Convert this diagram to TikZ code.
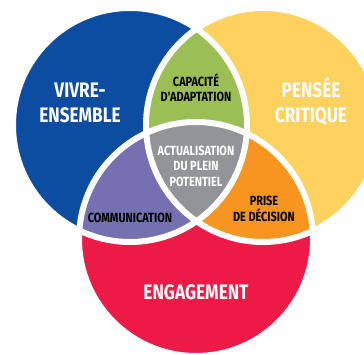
\documentclass[tikz,border=0pt]{standalone}
\usepackage{fontspec}
\newfontfamily\lbl{Fira Sans}[FakeStretch=0.82]
\definecolor{cblue}{HTML}{0D4DA1}
\definecolor{cyellow}{HTML}{FED25E}
\definecolor{cred}{HTML}{EC1A45}
\definecolor{cgreen}{HTML}{9CBF55}
\definecolor{cpurple}{HTML}{7470B2}
\definecolor{corange}{HTML}{F6951F}
\definecolor{cgray}{HTML}{929497}
\tikzset{
  bigtxt/.style={font=\lbl\bfseries\fontsize{21}{25}\selectfont, text=white, align=center, inner sep=0pt},
  smalltxt/.style={font=\lbl\bfseries\fontsize{13.3}{15.5}\selectfont, text=black, align=center, inner sep=0pt},
  border/.style={draw=white, line width=6pt}
}
\begin{document}
\begin{tikzpicture}[x=1pt,y=-1pt]
\useasboundingbox (0,0) rectangle (364,355);
\clip (0,0) rectangle (364,355);
\def\R{117}
\coordinate (cb) at (130,125);
\coordinate (cy) at (263,125);
\coordinate (cr) at (196,239);
% circles
\fill[cblue] (cb) circle[radius=\R];
\fill[cyellow] (cy) circle[radius=\R];
\fill[cred] (cr) circle[radius=\R];
% pairwise intersections
\begin{scope}\clip (cb) circle[radius=\R]; \fill[cgreen] (cy) circle[radius=\R];\end{scope}
\begin{scope}\clip (cb) circle[radius=\R]; \fill[cpurple] (cr) circle[radius=\R];\end{scope}
\begin{scope}\clip (cy) circle[radius=\R]; \fill[corange] (cr) circle[radius=\R];\end{scope}
\begin{scope}\clip (cb) circle[radius=\R]; \clip (cy) circle[radius=\R]; \fill[cgray] (cr) circle[radius=\R];\end{scope}
% white borders
\draw[border] (cb) circle[radius=\R];
\draw[border] (cy) circle[radius=\R];
\draw[border] (cr) circle[radius=\R];
% labels
\node[bigtxt] (vivre) at (80,103) {VIVRE-\\ENSEMBLE};
\node[bigtxt] (pensee) at (311,102) {PENSÉE\\CRITIQUE};
\node[bigtxt] (engag) at (196,292) {ENGAGEMENT};
\node[smalltxt] (capac) at (196,88) {CAPACITÉ\\D'ADAPTATION};
\node[smalltxt, text=white] (actual) at (196,166) {ACTUALISATION\\DU PLEIN\\POTENTIEL};
\node[smalltxt] (comm) at (130,218) {COMMUNICATION};
\node[smalltxt] (prise) at (264,209) {PRISE\\DE DÉCISION};
\end{tikzpicture}
\end{document}
